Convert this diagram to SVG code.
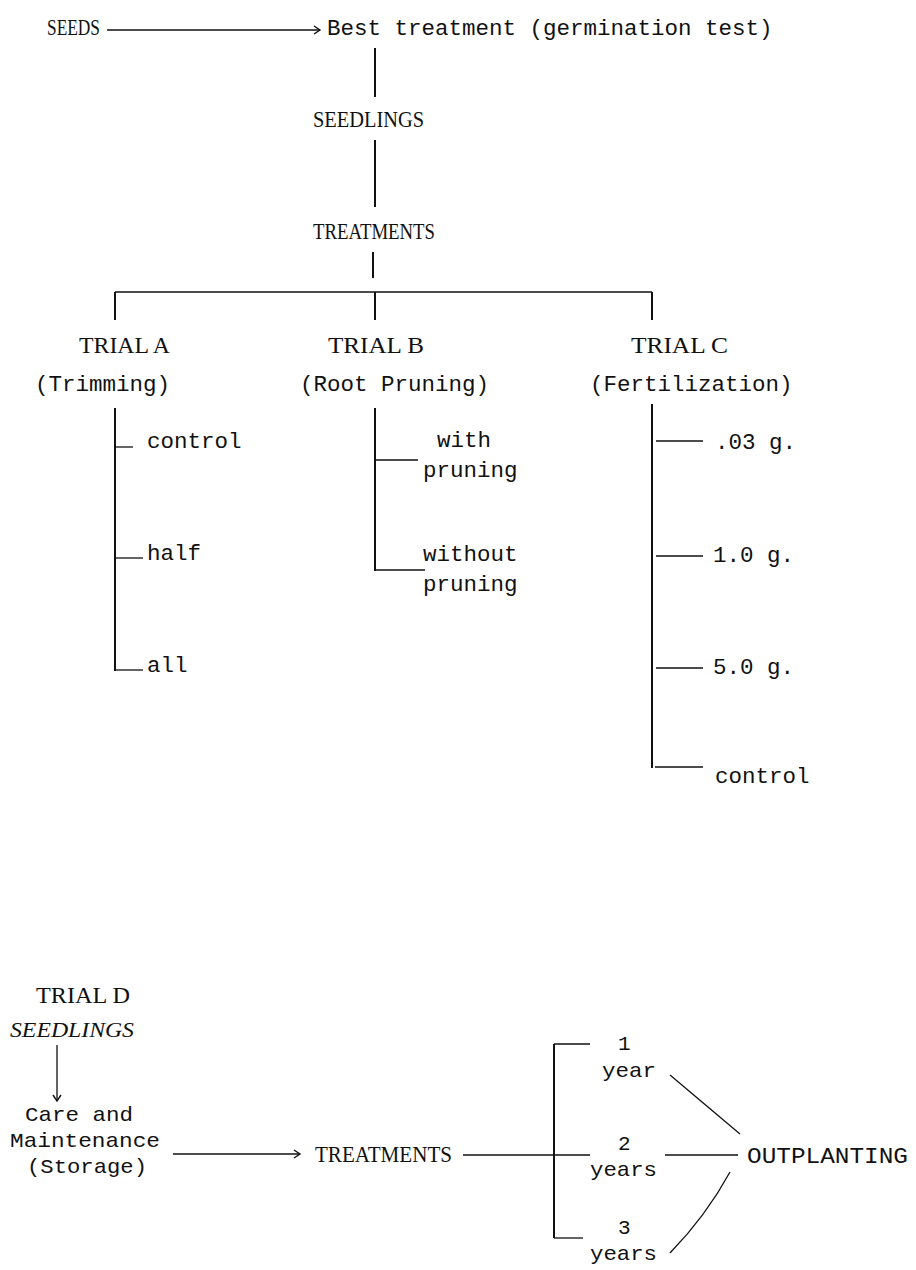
<svg xmlns="http://www.w3.org/2000/svg" width="916" height="1270" viewBox="0 0 916 1270">
<style>
.m{font-family:"Liberation Mono","Courier New",monospace;font-size:22.5px;fill:#111}
.ms{font-family:"Liberation Mono","Courier New",monospace;font-size:21px;fill:#111}
.s{font-family:"Liberation Serif","Times New Roman",serif;font-size:23px;fill:#111}
.si{font-family:"Liberation Serif","Times New Roman",serif;font-size:22px;font-style:italic;fill:#111}
.b{stroke:#111;stroke-width:2;fill:none}
.t{stroke:#111;stroke-width:1.3;fill:none}
</style>
<defs>
<marker id="chev" markerWidth="12" markerHeight="12" refX="9" refY="6" orient="auto" markerUnits="userSpaceOnUse">
<path d="M3,2 L9,6 L3,10" fill="none" stroke="#111" stroke-width="1.4"/>
</marker>
</defs>
<rect width="916" height="1270" fill="#fff"/>

<g id="connectors">
<line class="t" x1="107" y1="30" x2="320" y2="30" marker-end="url(#chev)"/>
<line class="b" x1="375" y1="48" x2="375" y2="97"/>
<line class="b" x1="375" y1="140" x2="375" y2="207"/>
<line class="b" x1="373" y1="252" x2="373" y2="278"/>
<line class="t" x1="115" y1="292" x2="652" y2="292"/>
<line class="b" x1="115" y1="292" x2="115" y2="320"/>
<line class="b" x1="375" y1="292" x2="375" y2="320"/>
<line class="b" x1="652" y1="292" x2="652" y2="320"/>
<!-- Trial A -->
<line class="b" x1="115" y1="408" x2="115" y2="671"/>
<line class="t" x1="115" y1="447" x2="133" y2="447"/>
<line class="t" x1="115" y1="558" x2="143" y2="558"/>
<line class="t" x1="115" y1="670" x2="143" y2="670"/>
<!-- Trial B -->
<line class="b" x1="375" y1="408" x2="375" y2="571"/>
<line class="t" x1="375" y1="460" x2="418" y2="460"/>
<line class="t" x1="375" y1="570" x2="425" y2="570"/>
<!-- Trial C -->
<line class="b" x1="652" y1="404" x2="652" y2="768"/>
<line class="t" x1="656" y1="441" x2="703" y2="441"/>
<line class="t" x1="656" y1="556" x2="703" y2="556"/>
<line class="t" x1="656" y1="668" x2="703" y2="668"/>
<line class="t" x1="655" y1="767" x2="703" y2="767"/>
<!-- Trial D -->
<line class="t" x1="57" y1="1045" x2="57" y2="1101" marker-end="url(#chev)"/>
<line class="t" x1="173" y1="1154" x2="300" y2="1154" marker-end="url(#chev)"/>
<line class="t" x1="463" y1="1155" x2="554" y2="1155"/>
<line class="b" x1="554" y1="1044" x2="554" y2="1238"/>
<line class="t" x1="554" y1="1044" x2="590" y2="1044"/>
<line class="t" x1="554" y1="1155" x2="590" y2="1155"/>
<line class="t" x1="554" y1="1238" x2="583" y2="1238"/>
<line class="t" x1="670" y1="1075" x2="740" y2="1134"/>
<line class="t" x1="665" y1="1155" x2="738" y2="1155"/>
<path class="t" d="M670,1253 Q706,1216 730,1172"/>
</g>

<g id="seeds"><text class="s" x="47" y="35" textLength="53" lengthAdjust="spacingAndGlyphs">SEEDS</text></g>
<g id="best"><text class="m" x="327" y="35">Best treatment (germination test)</text></g>
<g id="seedlings"><text class="s" x="313" y="127" textLength="111" lengthAdjust="spacingAndGlyphs">SEEDLINGS</text></g>
<g id="treatments"><text class="s" x="313" y="239" textLength="122" lengthAdjust="spacingAndGlyphs">TREATMENTS</text></g>

<g id="trialA">
<text class="s" x="79" y="353" textLength="91" lengthAdjust="spacingAndGlyphs">TRIAL A</text>
<text class="m" x="35" y="391">(Trimming)</text>
</g>
<g id="trialA-control"><text class="m" x="147" y="448">control</text></g>
<g id="trialA-half"><text class="m" x="147" y="560">half</text></g>
<g id="trialA-all"><text class="m" x="147" y="672">all</text></g>

<g id="trialB">
<text class="s" x="328" y="353" textLength="96" lengthAdjust="spacingAndGlyphs">TRIAL B</text>
<text class="m" x="300" y="391">(Root Pruning)</text>
</g>
<g id="trialB-with"><text class="m" x="437" y="447">with</text><text class="m" x="423" y="477">pruning</text></g>
<g id="trialB-without"><text class="m" x="423" y="561">without</text><text class="m" x="423" y="591">pruning</text></g>

<g id="trialC">
<text class="s" x="631" y="353" textLength="97" lengthAdjust="spacingAndGlyphs">TRIAL C</text>
<text class="m" x="590" y="391">(Fertilization)</text>
</g>
<g id="trialC-003"><text class="m" x="715" y="449">.03 g.</text></g>
<g id="trialC-10"><text class="m" x="713" y="562">1.0 g.</text></g>
<g id="trialC-50"><text class="m" x="713" y="674">5.0 g.</text></g>
<g id="trialC-control"><text class="m" x="715" y="783">control</text></g>

<g id="trialD">
<text class="s" x="36" y="1003" textLength="94" lengthAdjust="spacingAndGlyphs">TRIAL D</text>
<text class="si" x="10" y="1037" textLength="124" lengthAdjust="spacingAndGlyphs">SEEDLINGS</text>
</g>
<g id="care">
<text class="ms" x="25" y="1121" textLength="108" lengthAdjust="spacingAndGlyphs">Care and</text>
<text class="ms" x="10" y="1147" textLength="150" lengthAdjust="spacingAndGlyphs">Maintenance</text>
<text class="ms" x="27" y="1173" textLength="120" lengthAdjust="spacingAndGlyphs">(Storage)</text>
</g>
<g id="treatmentsD"><text class="s" x="315" y="1162" textLength="137" lengthAdjust="spacingAndGlyphs">TREATMENTS</text></g>
<g id="year1"><text class="ms" x="618" y="1050">1</text><text class="ms" x="602" y="1077" textLength="54" lengthAdjust="spacingAndGlyphs">year</text></g>
<g id="year2"><text class="ms" x="618" y="1150">2</text><text class="ms" x="590" y="1176" textLength="67" lengthAdjust="spacingAndGlyphs">years</text></g>
<g id="year3"><text class="ms" x="618" y="1234">3</text><text class="ms" x="590" y="1260" textLength="67" lengthAdjust="spacingAndGlyphs">years</text></g>
<g id="outplanting"><text class="m" x="747" y="1163" textLength="161" lengthAdjust="spacingAndGlyphs">OUTPLANTING</text></g>
</svg>
